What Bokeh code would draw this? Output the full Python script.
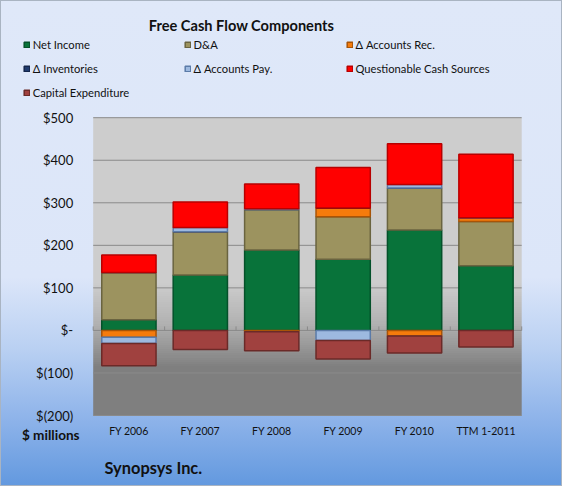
import numpy as np
from bokeh.plotting import figure
from bokeh.models import Range1d, FixedTicker, Legend, LegendItem, Label
from bokeh.embed import file_html
from bokeh.resources import INLINE

# ---------------- data ($ millions) ----------------
categories = ["FY 2006", "FY 2007", "FY 2008", "FY 2009", "FY 2010", "TTM 1-2011"]
net_income = [25, 130, 189, 167, 236, 152]
d_and_a = [111, 102, 95, 100, 99, 104]
accounts_rec = [-16, 0, -3, 21, -13, 9]
inventories = [0, 0, 0, 0, 0, 0]
accounts_pay = [-15, 10, 2, -24, 8, 0]
questionable = [41, 60, 58, 95, 96, 149]
capex = [-52, -45, -45, -43, -40, -39]

y_ticks = [-200, -100, 0, 100, 200, 300, 400, 500]
y_tick_labels = ["$(200)", "$(100)", "$-", "$100", "$200", "$300", "$400", "$500"]

series = [
    ("Net Income", net_income, "#08733A", "#04512A"),
    ("D&A", d_and_a, "#9C935F", "#6A6440"),
    ("Δ Accounts Rec.", accounts_rec, "#F57B0C", "#A85407"),
    ("Δ Inventories", inventories, "#1F3A6E", "#13254A"),
    ("Δ Accounts Pay.", accounts_pay, "#9DB9E0", "#5B7BA8"),
    ("Questionable Cash Sources", questionable, "#FF0000", "#B80000"),
    ("Capital Expenditure", capex, "#A0413F", "#6B2A28"),
]

FONT = "Lato"
TXT = "#111111"
Y0, Y1 = y_ticks[0], y_ticks[-1]
N = len(categories)

# layout (pixels) of the plot area inside the canvas
W, H = 562, 486
PA_LEFT, PA_RIGHT, PA_TOP, PA_BOTTOM = 91.7, 520.2, 116.2, 414.0
px_x = (PA_RIGHT - PA_LEFT) / N
px_y = (PA_BOTTOM - PA_TOP) / (Y1 - Y0)

p = figure(width=W, height=H, output_backend="svg", toolbar_location=None,
           title=None,
           x_range=Range1d(-PA_LEFT / px_x, N + (W - PA_RIGHT) / px_x),
           y_range=Range1d(Y0 - (H - PA_BOTTOM) / px_y, Y1 + PA_TOP / px_y),
           min_border=0)
p.styles = {"background": "linear-gradient(to bottom, #DFE8F9 0%, #DCE6F9 57%, "
                          "#B9D0F2 72%, #8FB4EA 86%, #6399DF 100%)",
            "border": "1px solid #A9B4C2", "box-sizing": "border-box"}
p.border_fill_alpha = 0
p.background_fill_alpha = 0
p.outline_line_color = None
p.xgrid.visible = False
p.ygrid.visible = False

# plot-area gradient background (decoration)
nrows = 140
vals = np.linspace(Y0, Y1, nrows)
gray = np.interp(vals, [-90, -45, 20, 110], [127, 150, 180, 205]).astype(np.uint32)
img = np.empty((nrows, 2), dtype=np.uint32)
rgba = (255 << 24) | (gray << 16) | (gray << 8) | gray
img[:, 0] = rgba
img[:, 1] = rgba
p.image_rgba(image=[img], x=0, y=Y0, dw=N, dh=Y1 - Y0)

# horizontal gridlines across the plot area
p.segment(x0=[0] * len(y_ticks), x1=[N] * len(y_ticks), y0=y_ticks, y1=y_ticks,
          line_color="#8A8A8A", line_width=1)
# small category-boundary ticks on the zero line
bounds = np.arange(N + 1)
p.segment(x0=bounds, x1=bounds, y0=np.zeros(N + 1), y1=np.full(N + 1, 4 / px_y),
          line_color="#8A8A8A", line_width=1)

# stacked bars (positives up, negatives down)
xs = np.arange(N) + 0.5
pos = np.zeros(N)
neg = np.zeros(N)
renderers = {}
for name, values, fc, lc in series:
    v = np.array(values, dtype=float)
    bottom = np.where(v >= 0, pos, neg + v)
    top = np.where(v >= 0, pos + v, neg)
    pos = pos + np.clip(v, 0, None)
    neg = neg + np.clip(v, None, 0)
    r = p.vbar(x=xs, bottom=bottom, top=top, width=0.76,
               fill_color=fc, line_color=lc, line_width=1.5)
    renderers[name] = r

# axes drawn at the plot-area edges
p.yaxis.fixed_location = 0
p.yaxis.ticker = FixedTicker(ticks=y_ticks)
p.yaxis.major_label_overrides = dict(zip(y_ticks, y_tick_labels))
p.yaxis.axis_line_color = None
p.yaxis.major_tick_line_color = None
p.yaxis.minor_tick_line_color = None
p.yaxis.major_label_text_font = FONT
p.yaxis.major_label_text_font_size = "13px"
p.yaxis.major_label_text_color = TXT
p.yaxis.major_label_standoff = 14

p.xaxis.fixed_location = Y0
p.xaxis.ticker = FixedTicker(ticks=list(xs))
p.xaxis.major_label_overrides = {float(x): c for x, c in zip(xs, categories)}
p.xaxis.axis_line_color = None
p.xaxis.major_tick_line_color = None
p.xaxis.minor_tick_line_color = None
p.xaxis.major_label_text_font = FONT
p.xaxis.major_label_text_font_size = "10.5px"
p.xaxis.major_label_text_color = TXT
p.xaxis.major_label_standoff = 3

# legend: three columns
cols = [["Net Income", "Δ Inventories", "Capital Expenditure"],
        ["D&A", "Δ Accounts Pay."],
        ["Δ Accounts Rec.", "Questionable Cash Sources"]]
col_x = [21.7, 182.5, 344.5]
LEG_TOP = 36
for names, cx in zip(cols, col_x):
    h = len(names) * 14 + (len(names) - 1) * 10
    leg = Legend(items=[LegendItem(label=n, renderers=[renderers[n]]) for n in names],
                 location=(cx, H - LEG_TOP - h),
                 orientation="vertical",
                 label_text_font=FONT, label_text_font_size="11.2px",
                 label_text_color=TXT,
                 glyph_width=7, glyph_height=7, label_standoff=3,
                 label_height=14, spacing=10, padding=0, margin=0,
                 border_line_color=None, background_fill_alpha=0)
    p.add_layout(leg)

p.add_layout(Label(x=240, y=H - 24, x_units="screen", y_units="screen",
                   text="Free Cash Flow Components", text_font=FONT,
                   text_font_size="14.6px", text_font_style="bold",
                   text_align="center", text_baseline="middle", text_color=TXT))
p.add_layout(Label(x=20.4, y=H - 433.7, x_units="screen", y_units="screen",
                   text="$ millions", text_font=FONT, text_font_size="13.6px",
                   text_font_style="bold", text_align="left", text_baseline="middle",
                   text_color=TXT))
p.add_layout(Label(x=103, y=H - 466.3, x_units="screen", y_units="screen",
                   text="Synopsys Inc.", text_font=FONT, text_font_size="16.4px",
                   text_font_style="bold", text_align="left", text_baseline="middle",
                   text_color=TXT))

open("out.html", "w").write(file_html(p, INLINE))
